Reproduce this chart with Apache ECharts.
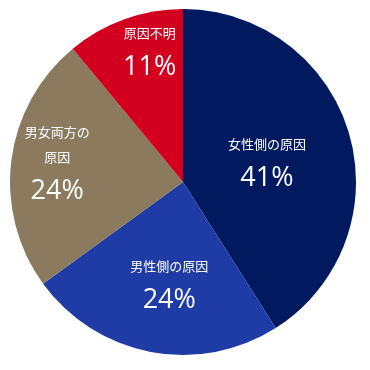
<!DOCTYPE html>
<html><head><meta charset="utf-8">
<script src="https://cdn.jsdelivr.net/npm/echarts@6/dist/echarts.min.js"></script>
<style>html,body{margin:0;padding:0;background:#fff}#c{width:370px;height:370px}</style>
</head><body><div id="c"></div>
<script>
const categories = ['女性側の原因', '男性側の原因', '男女両方の\n原因', '原因不明'];
const values = [41, 24, 24, 11];
const colors = ['#011a5f', '#1f3ca6', '#8b7a5d', '#d2001e'];
const labelOffsets = [[-2, 9], [3, 18], [-37, -4], [-3, -43]];

const chart = echarts.init(document.getElementById('c'), null, {renderer: 'canvas'});
chart.setOption({
  animation: false,
  series: [{
    type: 'pie',
    center: [183, 182],
    radius: [0, 173],
    startAngle: 90,
    clockwise: true,
    avoidLabelOverlap: false,
    data: categories.map((n, i) => ({
      name: n, value: values[i],
      itemStyle: {color: colors[i]},
      label: {offset: labelOffsets[i]}
    })),
    itemStyle: {borderWidth: 0},
    label: {
      show: true,
      position: 'inside',
      formatter: p => '{n|' + p.name.split('\n').join('}\n{n|') + '}\n{p|' + p.value + '%}',
      rich: {
        n: {color: '#fff', fontSize: 13, lineHeight: 25, fontFamily: 'Noto Sans CJK JP'},
        p: {color: '#fff', fontSize: 27, lineHeight: 44, fontFamily: 'Open Sans'}
      }
    },
    labelLine: {show: false}
  }]
});
</script></body></html>
